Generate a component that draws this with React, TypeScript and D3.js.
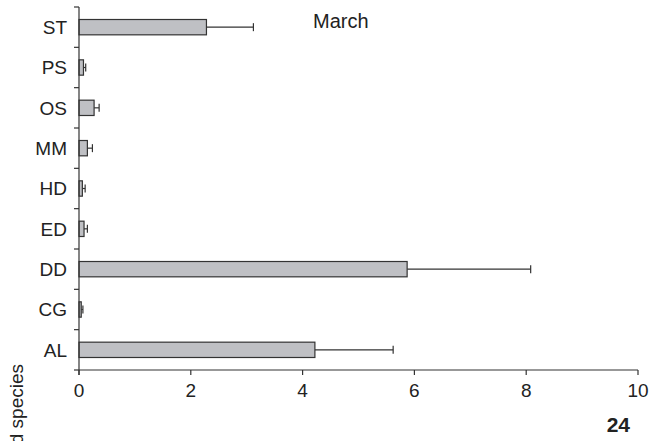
import React from "react";
import * as d3 from "d3";

const categories = ["ST", "PS", "OS", "MM", "HD", "ED", "DD", "CG", "AL"];
const means = [2.28, 0.08, 0.27, 0.15, 0.06, 0.09, 5.87, 0.04, 4.22];
const errors = [0.84, 0.04, 0.09, 0.09, 0.05, 0.06, 2.21, 0.03, 1.4];
const xTicks = [0, 2, 4, 6, 8, 10];
const panelTitle = "March";
const panelNumber = "24";
const yTitle = "d species";

const W = 649;
const H = 441;
const x0 = 79;
const x1 = 638;
const yTop = 7;
const yBottom = 370;
const FONT = "'Liberation Sans', Arial, Helvetica, sans-serif";
const TEXT = "#222";
const LINE = "#333";

export default function App() {
  const x = d3.scaleLinear().domain([0, 10]).range([x0, x1]);
  const y = d3.scaleBand<string>().domain(categories).range([yTop, yBottom]).paddingInner(0.62).paddingOuter(0.31);
  const band = (yBottom - yTop) / categories.length;
  const tickYs = d3.range(categories.length + 1).map((i) => yTop + i * band);
  const bh = y.bandwidth();

  return (
    <svg width={W} height={H} style={{ position: "absolute", left: 0, top: 0, background: "#fff" }}>
      <rect x={0} y={0} width={W} height={H} fill="#fff" />
      {categories.map((c, i) => {
        const yy = y(c) as number;
        const cy = yy + bh / 2;
        const xe = x(means[i] + errors[i]);
        return (
          <g key={c}>
            <line x1={x(means[i])} x2={xe} y1={cy} y2={cy} stroke={LINE} strokeWidth={1.2} />
            <line x1={xe} x2={xe} y1={cy - 4} y2={cy + 4} stroke={LINE} strokeWidth={1.2} />
            <rect x={x(0)} y={yy} width={x(means[i]) - x(0)} height={bh} fill="#bfc0c4" stroke={LINE} strokeWidth={1.2} />
          </g>
        );
      })}
      <line x1={x0} x2={x0} y1={yTop} y2={yBottom + 5} stroke={LINE} strokeWidth={1.2} />
      {tickYs.map((t, i) => (
        <line key={i} x1={x0 - 5} x2={x0} y1={t} y2={t} stroke={LINE} strokeWidth={1.2} />
      ))}
      {categories.map((c) => (
        <text key={c} x={67} y={(y(c) as number) + bh / 2} dy="0.36em" textAnchor="end" fontFamily={FONT} fontSize={19} fill={TEXT}>
          {c}
        </text>
      ))}
      <line x1={x0} x2={x1} y1={yBottom} y2={yBottom} stroke={LINE} strokeWidth={1.2} />
      {xTicks.map((t) => (
        <g key={t}>
          <line x1={x(t)} x2={x(t)} y1={yBottom} y2={yBottom + 5} stroke={LINE} strokeWidth={1.2} />
          <text x={x(t)} y={397} textAnchor="middle" fontFamily={FONT} fontSize={19} fill={TEXT}>
            {t}
          </text>
        </g>
      ))}
      <text x={313} y={27.5} fontFamily={FONT} fontSize={20} fill={TEXT}>
        {panelTitle}
      </text>
      <text x={630} y={432} textAnchor="end" fontFamily={FONT} fontSize={21} fontWeight="bold" fill={TEXT}>
        {panelNumber}
      </text>
      <text transform="translate(23,364) rotate(-90)" textAnchor="end" fontFamily={FONT} fontSize={19} fill={TEXT}>
        {yTitle}
      </text>
    </svg>
  );
}
